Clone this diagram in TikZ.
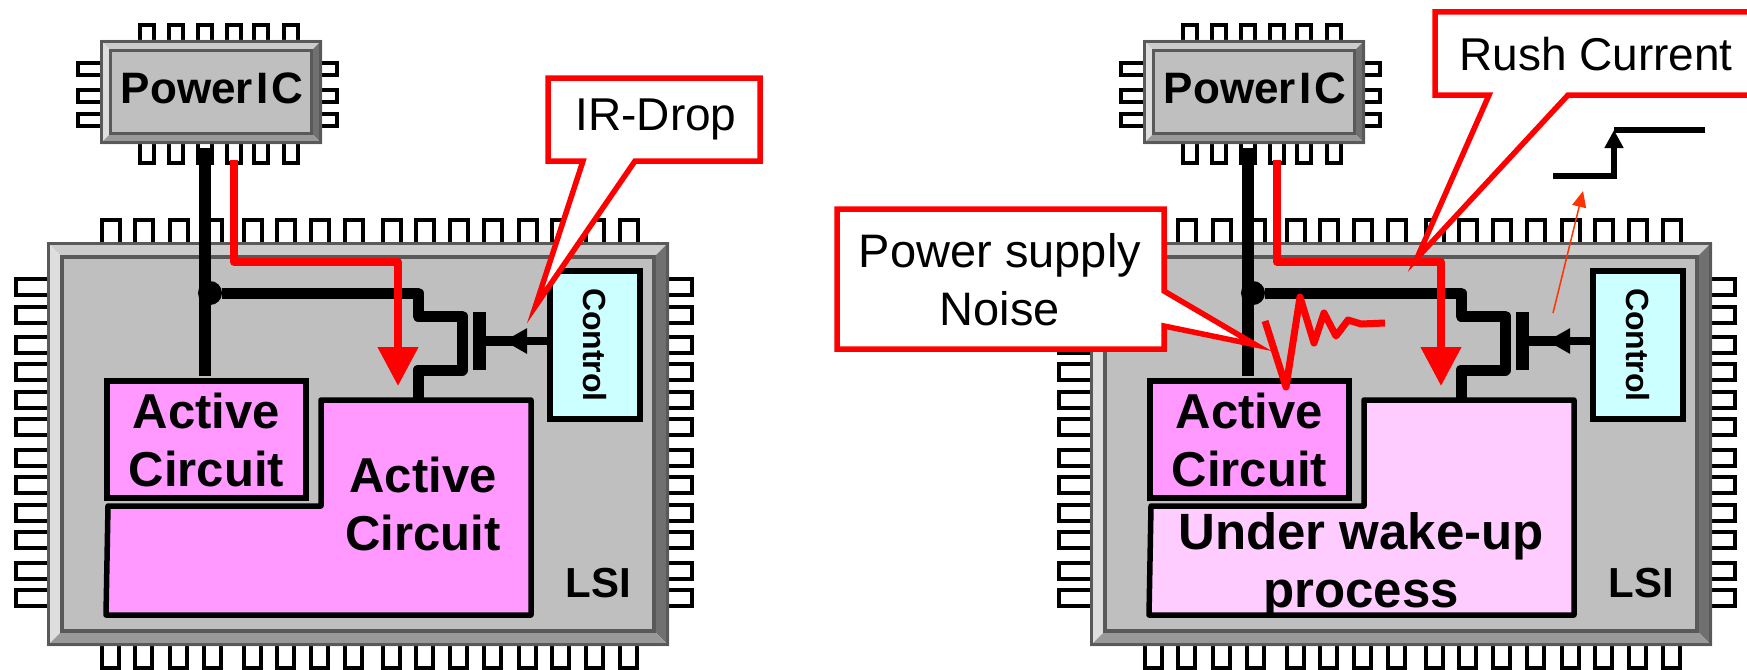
\documentclass[tikz,border=0pt]{standalone}
\usepackage{fontspec}
\setmainfont{Liberation Sans}
\usepackage{graphicx}
\usetikzlibrary{arrows.meta,positioning}
\begin{document}
\begin{tikzpicture}[
    x=1pt, y=-1pt,
    inner sep=0pt,
    boldtext/.style={font=\fontsize{49}{58}\selectfont\bfseries, align=center},
    calltext/.style={font=\fontsize{46}{58}\selectfont, align=center},
    pinbox/.style={draw=black, line width=4pt, fill=white},
    bevelline/.style={draw=black!65, line width=3.5pt},
    activebox/.style={draw=black, line width=6pt, fill=activefill, minimum width=199pt, minimum height=117pt, boldtext},
    lshape/.style={draw=black, line width=5.5pt, line join=round},
    ctrlbox/.style={draw=black, line width=6pt, fill=ctrlfill, minimum width=90pt, minimum height=148pt, font=\fontsize{32}{36}\selectfont\bfseries},
    gatebar/.style={fill=black, minimum width=13pt, minimum height=58pt},
    dotnode/.style={circle, fill=black, minimum size=24pt},
    wire/.style={draw=black, line width=11pt, line join=round},
    gateline/.style={draw=black, line width=10pt},
    current/.style={draw=red, line width=7.5pt, line join=round, -{Triangle[length=39pt, width=39pt]}},
    callout/.style={draw=red, line width=5.5pt, fill=white, miter limit=25},
    noise/.style={draw=red, line width=7pt, line join=round},
    stepline/.style={draw=black, line width=5.5pt},
    rushflow/.style={draw=rushred, line width=1.5pt, -{Triangle[length=16pt, width=14pt]}}
]
\definecolor{activefill}{HTML}{FF99FF}
\definecolor{wakefill}{HTML}{FFCCFF}
\definecolor{ctrlfill}{HTML}{CCFFFF}
\definecolor{rushred}{HTML}{FF3300}
\path[use as bounding box, clip] (0,0) rectangle (1747,669);
\foreach \side/\dx/\shapefill in {l/0/activefill, r/1043/wakefill} {
\begin{scope}[xshift=\dx pt, name prefix=\side-]
    \foreach \px in {138,167,196,225,252,282} {
        \draw[pinbox] (\px+2,25) rectangle (\px+16,44);
        \draw[pinbox] (\px+2,140) rectangle (\px+16,163);
    }
    \foreach \py in {61,88,112} {
        \draw[pinbox] (78,\py+2) rectangle (104,\py+14);
        \draw[pinbox] (318,\py+2) rectangle (337,\py+14);
    }
    \foreach \px in {100,133,168,202,242,275,309,343,381,414,448,482,517,550,584,618} {
        \draw[pinbox] (\px+2,220) rectangle (\px+20,246);
        \draw[pinbox] (\px+2,642) rectangle (\px+19,668);
    }
    \foreach \py in {277,305,335,362,390,417,448,475,503,530,561,588} {
        \draw[pinbox] (16,\py+2) rectangle (51,\py+18);
        \draw[pinbox] (665,\py+2) rectangle (692,\py+18);
    }
    \foreach \bx/\by/\bX/\bY/\bd in {100/40/322/144/10.5, 47/242/669/646/15} {
        \fill[fill=black!20] (\bx,\by) -- (\bX,\by) -- (\bX-\bd,\by+\bd) -- (\bx+\bd,\by+\bd) -- cycle;
        \fill[fill=black!13] (\bx,\by) -- (\bx+\bd,\by+\bd) -- (\bx+\bd,\bY-\bd) -- (\bx,\bY) -- cycle;
        \fill[fill=black!56] (\bX,\by) -- (\bX,\bY) -- (\bX-\bd,\bY-\bd) -- (\bX-\bd,\by+\bd) -- cycle;
        \fill[fill=black!40] (\bx,\bY) -- (\bX,\bY) -- (\bX-\bd,\bY-\bd) -- (\bx+\bd,\bY-\bd) -- cycle;
        \draw[bevelline, fill=black!25] (\bx+\bd,\by+\bd) rectangle (\bX-\bd,\bY-\bd);
        \draw[bevelline] (\bx+1.5,\by+1.5) rectangle (\bX-1.5,\bY-1.5);
    }
    \node[boldtext, font=\fontsize{44}{50}\selectfont\bfseries] (ic) at (212,88) {Power\kern3pt I\kern3pt C};
    \node[font=\fontsize{42}{46}\selectfont\bfseries] (lsi) at (598,583) {LSI};
    \path[lshape, fill=\shapefill] (321,400) -- (531,400) -- (531,615) -- (106,615) -- (108,506) -- (321,506) -- cycle;
    \node[activebox] (small) at (206.5,439.5) {Active\\Circuit};
    \node[ctrlbox] (ctrl) at (594.5,345) {\rotatebox{-90}{Control}};
    \coordinate (vddpin) at (205,148);
    \coordinate (redpin) at (234,160);
    \coordinate (redtip) at (398,386);
    \coordinate (drain) at (418,398);
    \node[dotnode] (tap) at (210,293) {};
    \node[gatebar] (gate) at (479.5,341) {};
    \coordinate (gatetip) at (504,341);
    \coordinate (gatemid) at (513,341);
    \draw[wire, line width=12pt, shorten >=2pt] (vddpin) -- (vddpin |- small.north);
    \draw[wire] (tap) -- (418,293) -- (418,316) -- (462,316) -- (462,370) -- (418,370) -- (drain);
    \draw[gateline] (gate.east) -- (gatemid);
    \draw[gateline, line width=8pt, -{Triangle[length=23pt, width=24pt]}] (ctrl.west |- gate) -- (gatetip);
    \draw[current] (redpin) -- (234,262) -- (398,262) -- (redtip);
\end{scope}
}
\node[boldtext] (bigactive) at (423,504) {Active\\Circuit};
\node[boldtext, font=\fontsize{51}{58}\selectfont\bfseries] (wakeup) at (1361,565) {Under wake-up\\process};
\draw[callout] (548,78) -- (760,78) -- (760,161) -- (635,161) -- (535.5,306) -- (583,161) -- (548,161) -- cycle;
\node[calltext] (irdrop) at (656,119) {IR-Drop};
\draw[callout] (1435,12) -- (1770,12) -- (1770,95) -- (1568,95) -- (1417,258) -- (1489,95) -- (1435,95) -- cycle;
\node[calltext] (rush) at (1596,54) {Rush Current};
\draw[callout] (837,209) -- (1164,209) -- (1164,291) -- (1256,345) -- (1164,326) -- (1164,349) -- (837,349) -- cycle;
\node[calltext, font=\fontsize{47}{58}\selectfont] (noisetext) at (1000,280) {Power supply\\Noise};
\draw[noise] (1265,321) -- (1286,387) -- (1300,297) -- (1314,343) -- (1324,313) -- (1336,336) -- (1348,320) -- (1361,324) -- (1385,323);
\coordinate (stepa) at (1553,176);
\coordinate (stepb) at (1614,176);
\coordinate (stepc) at (1614,130);
\coordinate (stepd) at (1705,130);
\draw[stepline, -{Triangle[length=18pt, width=18pt]}] (stepa) -- (stepb) -- (stepc);
\draw[stepline] (stepc) -- (stepd);
\coordinate (rusha) at (1553,313);
\coordinate (rushb) at (1583,191);
\draw[rushflow] (rusha) -- (rushb);
\end{tikzpicture}
\end{document}
